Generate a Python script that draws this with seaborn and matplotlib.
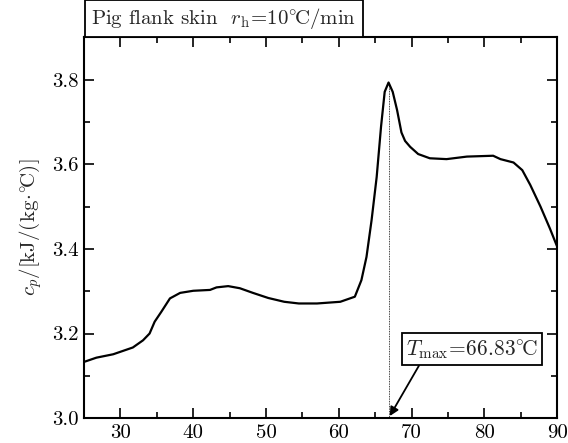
import matplotlib
matplotlib.use("Agg")
import matplotlib.pyplot as plt
import seaborn as sns
import pandas as pd
from matplotlib.ticker import MultipleLocator

# data
temps = [25.0, 26.7, 29.0, 31.7, 33.1, 34.0, 34.7, 35.6, 36.8, 38.2, 40.0, 42.3,
         43.2, 44.8, 46.4, 48.2, 50.3, 52.5, 54.5, 57.0, 60.2, 62.2, 63.1, 63.8,
         64.5, 65.2, 65.8, 66.3, 66.83, 67.4, 68.0, 68.6, 69.1, 69.8, 70.9, 72.5,
         74.8, 77.6, 79.4, 81.2, 82.2, 84.0, 85.2, 86.3, 87.7, 89.0, 90.0]
cp = [3.133, 3.143, 3.151, 3.167, 3.184, 3.200, 3.228, 3.251, 3.283, 3.296, 3.301, 3.303,
      3.309, 3.312, 3.307, 3.296, 3.284, 3.275, 3.271, 3.271, 3.275, 3.287, 3.326, 3.381,
      3.468, 3.570, 3.689, 3.771, 3.793, 3.771, 3.728, 3.675, 3.655, 3.641, 3.624, 3.614,
      3.612, 3.618, 3.619, 3.620, 3.612, 3.604, 3.586, 3.551, 3.500, 3.448, 3.405]
t_max = 66.83
cp_peak = 3.793

df = pd.DataFrame({"T": temps, "cp": cp})

sns.set_theme(style="ticks")
plt.rcParams["font.family"] = ["cmr10", "DejaVu Serif"]
plt.rcParams["mathtext.fontset"] = "cm"
plt.rcParams["axes.formatter.use_mathtext"] = True

DEG_C = r"^{\circ}\!\mathrm{C}"

fig = plt.figure(figsize=(5.68, 4.43), dpi=100)
ax = fig.add_axes([0.148, 0.056, 0.833, 0.860])

sns.lineplot(data=df, x="T", y="cp", ax=ax, color="black", lw=1.6,
             sort=False, estimator=None)

# dotted marker line at the peak
ax.vlines(t_max, 3.0, cp_peak, colors="black", linestyles=(0, (1, 1)), lw=0.6)

ax.set_xlim(25, 90)
ax.set_ylim(3.0, 3.9)
ax.xaxis.set_major_locator(MultipleLocator(10))
ax.xaxis.set_minor_locator(MultipleLocator(5))
ax.yaxis.set_major_locator(MultipleLocator(0.2))
ax.yaxis.set_minor_locator(MultipleLocator(0.1))
ax.tick_params(which="both", direction="in", top=True, right=True, width=1.2,
               labelsize=15, labelcolor="black", color="black", pad=4)
ax.tick_params(which="major", length=7)
ax.tick_params(which="minor", length=4)
ax.yaxis.set_major_formatter(plt.FuncFormatter(lambda v, p: f"{v:.1f}"))
ax.xaxis.set_major_formatter(plt.FuncFormatter(lambda v, p: f"{v:.0f}"))
for s in ax.spines.values():
    s.set_linewidth(1.5)
    s.set_color("black")

ax.set_xlabel("")
ax.set_ylabel(r"$c_p\mathrm{/[kJ/(kg}\!\cdot\!" + DEG_C + r"\mathrm{)]}$", fontsize=15, labelpad=6)

# title box sitting on top of the axes, left edge on the spine
ax.annotate(r"Pig flank skin  $r_\mathrm{h}\!=\!10" + DEG_C + r"\mathrm{/min}$",
            xy=(0.0, 1.0), xycoords="axes fraction", xytext=(5.2, 4.5),
            textcoords="offset points", ha="left", va="bottom", fontsize=15,
            bbox=dict(boxstyle="square,pad=0.3", fc="white", ec="black", lw=1.3))

ax.annotate(r"$T_\mathrm{max}\!=\!66.83" + DEG_C + "$", xy=(67.0, 3.005), xytext=(78.3, 3.163),
            ha="center", va="center", fontsize=15.5,
            bbox=dict(boxstyle="square,pad=0.2", fc="white", ec="black", lw=1.3),
            arrowprops=dict(arrowstyle="-|>", color="black", lw=1.3, relpos=(0.12, 0.0),
                            mutation_scale=13, shrinkA=0, shrinkB=0))

plt.savefig("out.png", dpi=100)
plt.close()
